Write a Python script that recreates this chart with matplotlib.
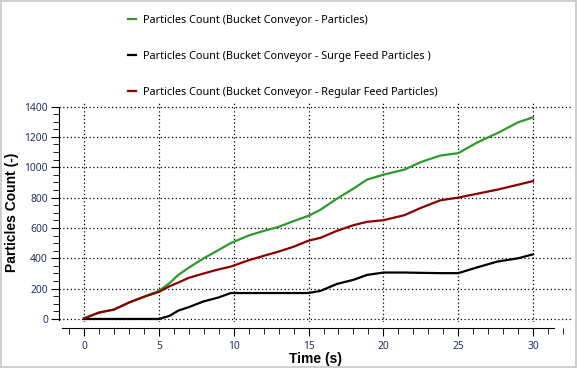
import matplotlib
matplotlib.use('Agg')
import matplotlib.pyplot as plt
from matplotlib.ticker import MultipleLocator

# values
time_s = [0, 1, 2, 3, 4, 5, 5.7, 6.3, 7, 8, 9, 9.8, 11, 12, 13, 14, 15, 15.8,
          16.9, 18, 18.9, 20, 21.4, 22.5, 23.8, 25, 26.3, 27.6, 29, 30]
total = [4, 42, 62, 108, 146, 185, 235, 290, 338, 400, 455, 500, 550, 580, 607,
         645, 680, 720, 793, 859, 918, 951, 984, 1034, 1077, 1093, 1165, 1224,
         1296, 1329]
surge = [0, 0, 0, 0, 0, 0, 20, 55, 78, 116, 142, 171, 171, 171, 171, 171, 171,
         185, 231, 258, 290, 306, 306, 304, 302, 302, 341, 378, 400, 426]
regular = [4, 42, 62, 108, 146, 178, 215, 240, 271, 300, 327, 345, 387, 416,
           444, 476, 516, 535, 581, 618, 640, 651, 684, 732, 782, 800, 826, 852,
           885, 909]

labels = ['Particles Count (Bucket Conveyor - Particles)',
          'Particles Count (Bucket Conveyor - Surge Feed Particles )',
          'Particles Count (Bucket Conveyor - Regular Feed Particles)']
colors = ['#2e9a2e', '#000000', '#8b0000']

plt.rcParams['font.family'] = ['Noto Sans', 'DejaVu Sans']
tick_color = '#23305e'

fig = plt.figure(figsize=(5.77, 3.68), dpi=100)
fig.patch.set_edgecolor('#cfcfcf')
fig.patch.set_linewidth(1.5)
ax = fig.add_axes([59 / 577, 1 - 322 / 368, 513 / 577, 220 / 368])

lines = []
for y, c, lab in zip([total, surge, regular], colors, labels):
    ln, = ax.plot(time_s, y, color=c, lw=1.6, label=lab)
    lines.append(ln)

ax.set_xlim(-1.67, 32.6)
ax.set_ylim(-20, 1430)
ax.xaxis.set_major_locator(MultipleLocator(5))
ax.xaxis.set_minor_locator(MultipleLocator(1))
ax.yaxis.set_major_locator(MultipleLocator(200))
ax.yaxis.set_minor_locator(MultipleLocator(50))
ax.grid(True, which='major', color='black', linestyle=(0, (1, 2)), linewidth=0.9)

for s in ['top', 'right']:
    ax.spines[s].set_visible(False)
ax.spines['bottom'].set_position(('outward', 4))
ax.spines['bottom'].set_bounds(-1.45, 31.4)
ax.spines['left'].set_bounds(-10, 1400)
ax.tick_params(which='both', direction='out', color='black', labelcolor=tick_color,
               labelsize=7.4)
ax.tick_params(which='major', length=6, pad=2)
ax.tick_params(axis='x', which='major', pad=4)
ax.tick_params(which='minor', length=4)

ax.set_xlabel('Time (s)', fontsize=10, fontweight='bold', family='Liberation Sans', labelpad=0)
ax.set_ylabel('Particles Count (-)', fontsize=10, fontweight='bold', family='Liberation Sans', labelpad=4)

fig.legend(handles=lines, loc='upper left', bbox_to_anchor=(128 / 577, 1 - 15 / 368),
           frameon=False, fontsize=7.8, handlelength=0.7, handletextpad=0.65,
           labelspacing=2.3, borderpad=0, borderaxespad=0)

plt.savefig('out.png', dpi=100)
